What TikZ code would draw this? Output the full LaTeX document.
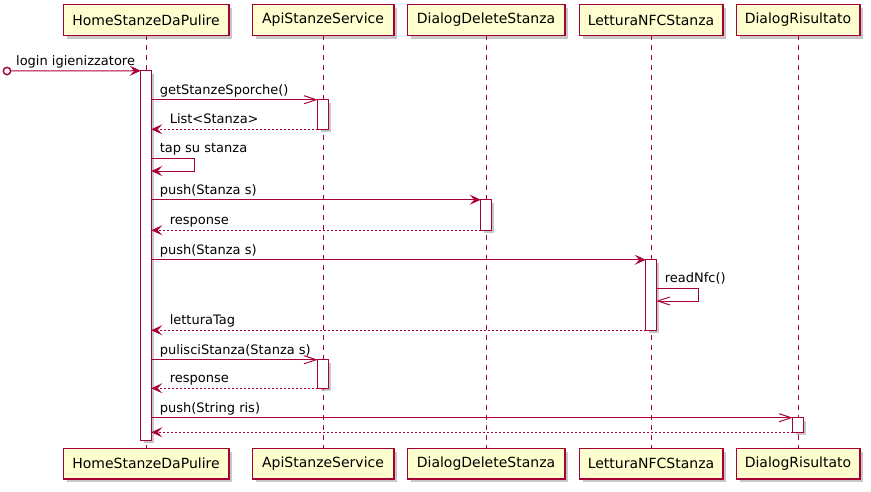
\documentclass[tikz,border=0pt]{standalone}
\usepackage{fontspec}
\setmainfont{DejaVu Sans}
\usetikzlibrary{arrows.meta,backgrounds}
\definecolor{umlred}{RGB}{168,0,54}
\definecolor{umlfill}{RGB}{254,254,206}
\tikzset{
  party/.style={fill=umlfill,minimum height=22.5pt,inner sep=0pt,font=\fontsize{10.5}{12}\selectfont},
  actbar/.style={fill=white,minimum width=7.5pt,inner sep=0pt},
  rim/.style={draw=umlred,line width=#1},
  shade/.style={fill=black!22,draw=none},
  lifeline/.style={umlred,line width=.75pt,dash pattern=on 3.75pt off 3.75pt},
  call/.style={umlred,line width=.75pt,-{Stealth[length=8.25pt,width=7.5pt,inset=3.4pt]}},
  async/.style={umlred,line width=.75pt,-{Straight Barb[length=9pt,width=6pt]}},
  reply/.style={call,dash pattern=on 1.5pt off 1.5pt},
  lbl/.style={font=\fontsize{9.75}{11}\selectfont,anchor=base west,inner sep=0pt,yshift=4.1pt,text=black},
}
\begin{document}
\begin{tikzpicture}[x=.75pt,y=-.75pt]
\useasboundingbox (0,0) rectangle (871,492);
% participants
\node[party,minimum width=123.75pt] (home) at (146,20) {HomeStanzeDaPulire};
\node[party,minimum width=105.75pt] (api) at (323,20) {ApiStanzeService};
\node[party,minimum width=117.75pt] (dds) at (486,20) {DialogDeleteStanza};
\node[party,minimum width=107.25pt] (nfc) at (651,20) {LetturaNFCStanza};
\node[party,minimum width=92.25pt] (ris) at (798,20) {DialogRisultato};
\node[party,minimum width=123.75pt] (homeB) at (146,463.5) {HomeStanzeDaPulire};
\node[party,minimum width=105.75pt] (apiB) at (323,463.5) {ApiStanzeService};
\node[party,minimum width=117.75pt] (ddsB) at (486,463.5) {DialogDeleteStanza};
\node[party,minimum width=107.25pt] (nfcB) at (651,463.5) {LetturaNFCStanza};
\node[party,minimum width=92.25pt] (risB) at (798,463.5) {DialogRisultato};
\foreach \n in {home,api,dds,nfc,ris,homeB,apiB,ddsB,nfcB,risB}
  \draw[rim=1.1pt] (\n.north west) rectangle (\n.south east);
% lifelines
\draw[lifeline] (home) -- (homeB);
\draw[lifeline] (api) -- (apiB);
\draw[lifeline] (dds) -- (ddsB);
\draw[lifeline] (nfc) -- (nfcB);
\draw[lifeline] (ris) -- (risB);
% activations
\node[actbar,minimum height=276.75pt] (h0) at (146,255.5) {};
\node[actbar,minimum height=21.75pt] (a1) at (323,114.5) {};
\node[actbar,minimum height=22.5pt] (d1) at (486,215) {};
\node[actbar,minimum height=52.5pt] (n1) at (651,295) {};
\node[actbar,minimum height=21pt] (a2) at (323,374) {};
\node[actbar,minimum height=10.5pt] (r1) at (798,425) {};
\foreach \n in {h0,a1,d1,n1,a2,r1}
  \draw[rim=.75pt] (\n.north west) rectangle (\n.south east);
% shadows
\begin{scope}[on background layer]
\foreach \n in {home,api,dds,nfc,ris,homeB,apiB,ddsB,nfcB,risB}
  \fill[shade] ([xshift=2.5pt,yshift=-2.5pt]\n.north west) rectangle ([xshift=2.5pt,yshift=-2.5pt]\n.south east);
\foreach \n in {h0,a1,d1,n1,a2,r1}
  \fill[shade] ([xshift=2.2pt,yshift=-2.2pt]\n.north west) rectangle ([xshift=2.2pt,yshift=-2.2pt]\n.south east);
\end{scope}
% messages
\node[draw=umlred,circle,line width=1.1pt,fill=white,minimum size=5.5pt,inner sep=0pt] (start) at (7,71) {};
\draw[call] (start) -- (h0.north west) node[lbl,at start,xshift=3.2pt] {login igienizzatore};
\draw[async] (h0.east |- a1.north) -- (a1.north west) node[lbl,at start,xshift=6pt] {getStanzeSporche()};
\draw[reply] (a1.south west) -- (h0.east |- a1.south) node[lbl,at end,xshift=13.5pt] {List<Stanza>};
\coordinate (tapA) at (194,158);
\coordinate (tapB) at (194,171);
\draw[call] (h0.east |- tapA) node[lbl,xshift=6pt] {tap su stanza} -- (tapA) -- (tapB) -- (h0.east |- tapB);
\draw[call] (h0.east |- d1.north) -- (d1.north west) node[lbl,at start,xshift=6pt] {push(Stanza s)};
\draw[reply] (d1.south west) -- (h0.east |- d1.south) node[lbl,at end,xshift=13.5pt] {response};
\draw[call] (h0.east |- n1.north) -- (n1.north west) node[lbl,at start,xshift=6pt] {push(Stanza s)};
\coordinate (nfcA) at (698,288);
\coordinate (nfcC) at (698,301);
\draw[async] (n1.east |- nfcA) node[lbl,xshift=6pt] {readNfc()} -- (nfcA) -- (nfcC) -- (n1.east |- nfcC);
\draw[reply] (n1.south west) -- (h0.east |- n1.south) node[lbl,at end,xshift=13.5pt] {letturaTag};
\draw[async] (h0.east |- a2.north) -- (a2.north west) node[lbl,at start,xshift=6pt] {pulisciStanza(Stanza s)};
\draw[reply] (a2.south west) -- (h0.east |- a2.south) node[lbl,at end,xshift=13.5pt] {response};
\draw[async] (h0.east |- r1.north) -- (r1.north west) node[lbl,at start,xshift=6pt] {push(String ris)};
\draw[reply] (r1.south west) -- (h0.east |- r1.south);
\end{tikzpicture}
\end{document}
